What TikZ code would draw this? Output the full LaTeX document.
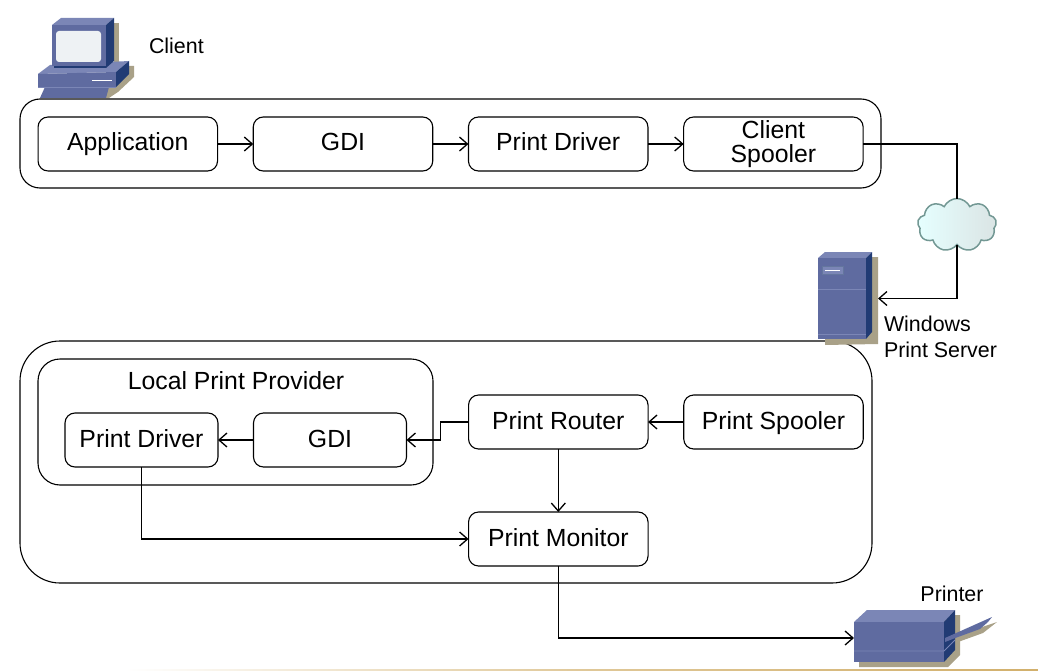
\documentclass[tikz,border=0pt]{standalone}
\usepackage{fontspec}
\setmainfont{Liberation Sans}
\usetikzlibrary{positioning,shapes.symbols,arrows.meta}
\definecolor{iconfront}{HTML}{5F6BA0}
\definecolor{icontop}{HTML}{7B86B6}
\definecolor{iconside}{HTML}{213B74}
\definecolor{iconshadow}{HTML}{A9A188}
\definecolor{iconscreen}{HTML}{EEF2F4}
\definecolor{footline}{HTML}{D2B06C}
\tikzset{>={Straight Barb[length=8pt,width=14pt,line width=1.3pt]}}

\begin{document}
\begin{tikzpicture}[x=1pt,y=-1pt,node distance=35.7pt,
                    stage/.style={draw,line width=1.1pt,rounded corners=10pt,minimum width=179.5pt,minimum height=54pt,inner sep=0,outer sep=0,align=center,font=\fontsize{24.8}{24}\selectfont},
                    oneline/.style={text height=17.5pt,text depth=3.5pt},
                    group/.style={draw,line width=1.1pt,inner sep=0,outer sep=0},
                    flow/.style={->,line width=1.3pt},
                    label/.style={inner sep=0,outer sep=0,align=left,font=\fontsize{21.4}{26}\selectfont},
                    icon/.style={inner sep=0,outer sep=0},
                    front/.style={fill=iconfront},
                    top/.style={fill=icontop},
                    side/.style={fill=iconside},
                    shadow/.style={fill=iconshadow},
       ]
       \useasboundingbox (0,0) rectangle (1038,671);
       \fill[left color=white,right color=footline,middle color=footline!70] (125,669) rectangle (1038,671);
       % frames
       \node[group,rounded corners=20pt,minimum width=861pt,minimum height=89pt] (clientframe) at (450.5,143.5) {};
       \node[group,rounded corners=40pt,minimum width=852pt,minimum height=242pt] (serverframe) at (446,462) {};
       \node[group,rounded corners=22pt,minimum width=395pt,minimum height=126pt] (provider) at (235.5,422) {};
       % client row
       \node[stage,oneline] (application) at (127.8,144) {Application};
       \node[stage,oneline,right=of application] (gdi) {GDI};
       \node[stage,oneline,right=of gdi] (driver) {Print Driver};
       \node[stage,right=of driver] (clientspooler) {Client\\Spooler};
       % server
       \node[stage,oneline] (spooler) at (773.5,422) {Print Spooler};
       \node[stage,oneline,left=of spooler] (router) {Print Router};
       \node[stage,oneline,minimum width=153pt] (servergdi) at (330,440) {GDI};
       \node[stage,oneline,minimum width=153pt] (serverdriver) at (141.5,440) {Print Driver};
       \node[stage,oneline,below=63pt of router] (monitor) {Print Monitor};
       \node[inner sep=0,font=\fontsize{24.8}{24}\selectfont] (providerlabel) at (236,381) {Local Print Provider};
       % icons, only the outlines are named
       \node[icon,minimum width=60pt,minimum height=93pt] (server) at (848,298.5) {};
       \node[icon,minimum width=106pt,minimum height=60pt] (printer) at (907,638) {};
       \node[cloud,cloud puffs=9,cloud puff arc=130,aspect=1.5,draw=iconshadow!50!cyan!30!gray,line width=1.5pt,left color=cyan!10!white,middle color=white,right color=cyan!15!gray!25!white,minimum width=79pt,minimum height=53pt,inner sep=0,outer sep=0] (cloud) at (957,225) {};
       % client computer
       \fill[shadow] (114,23) -- (119,23) -- (119,62) -- (114,62) -- cycle;
       \fill[shadow] (125,66) -- (134,66) -- (134,77) -- (118,92) -- (109,98) -- (100,98) -- (100,87) -- cycle;
       \fill[top] (52,25) -- (61,18) -- (114,18) -- (106,25) -- cycle;
       \fill[top] (38,74) -- (50,65) -- (129,61) -- (116,72) -- cycle;
       \fill[front] (52,25) rectangle (106,66);
       \fill[side] (106,25) -- (114,18) -- (114,61) -- (106,68) -- cycle;
       \fill[side] (54,66) -- (106,66) -- (106,68) -- (54,68) -- cycle;
       \fill[iconscreen,rounded corners=3pt] (56,31) rectangle (101,62);
       \fill[front] (38,74) -- (116,72) -- (116,87) -- (38,87) -- cycle;
       \fill[side] (116,72) -- (129,61) -- (129,74) -- (116,87) -- cycle;
       \fill[front] (45,87) -- (109,87) -- (106,98) -- (40,98) -- cycle;
       \draw[icontop,line width=.6pt] (38,87) -- (116,87);
       \draw[white,line width=1pt] (92,81) -- (112,81);
       % print server
       \fill[shadow] (872,257) -- (878,257) -- (878,344) -- (825,345) -- (825,339) -- cycle;
       \fill[top] (818,258) -- (825,252) -- (872,252) -- (866,258) -- cycle;
       \fill[front] (818,258) rectangle (866,339);
       \fill[side] (866,258) -- (872,252) -- (872,332) -- (866,339) -- cycle;
       \draw[icontop,line width=.8pt] (818,289) -- (866,289) (818,334) -- (866,334);
       \draw[iconside!70,fill=icontop,line width=.8pt] (822,266) rectangle (843,274);
       \draw[white,line width=1pt] (825,270) -- (840,270);
       % printer
       \fill[shadow] (955,615) -- (960,615) -- (960,655) -- (948,667) -- (859,667) -- (859,662) -- cycle;
       \fill[shadow] (958,635) -- (997,622) -- (983,633) -- (958,642) -- cycle;
       \fill[top] (854,622) -- (867,610) -- (955,610) -- (944,622) -- cycle;
       \fill[front] (854,622) rectangle (944,662);
       \fill[side] (944,622) -- (955,610) -- (955,650) -- (944,662) -- cycle;
       \fill[iconfront] (945,638) -- (992,617) -- (988,622) -- (980,629) -- (958,637) -- (945,642) -- cycle;
       \draw[icontop,line width=.8pt] (854,651) -- (944,651) -- (955,640);
       % labels
       \node[label,anchor=west] (clientlabel) at (149,46) {Client};
       \node[label,anchor=west] (serverlabel) at (884,337) {Windows\\Print Server};
       \node[label] (printerlabel) at (952,594) {Printer};
       % connectors
       \draw[flow] (application) -- (gdi);
       \draw[flow] (gdi) -- (driver);
       \draw[flow] (driver) -- (clientspooler);
       \draw[line width=1.3pt] (clientspooler) -| (cloud);
       \draw[flow] (cloud) |- (server);
       \draw[flow] (spooler) -- (router);
       \draw[flow] (router.west) -- ++(-28,0) |- (servergdi);
       \draw[flow] (servergdi) -- (serverdriver);
       \draw[flow] (router) -- (monitor);
       \draw[flow] (serverdriver) |- (monitor);
       \draw[flow] (monitor) |- (printer);
    \end{tikzpicture}
\end{document}
